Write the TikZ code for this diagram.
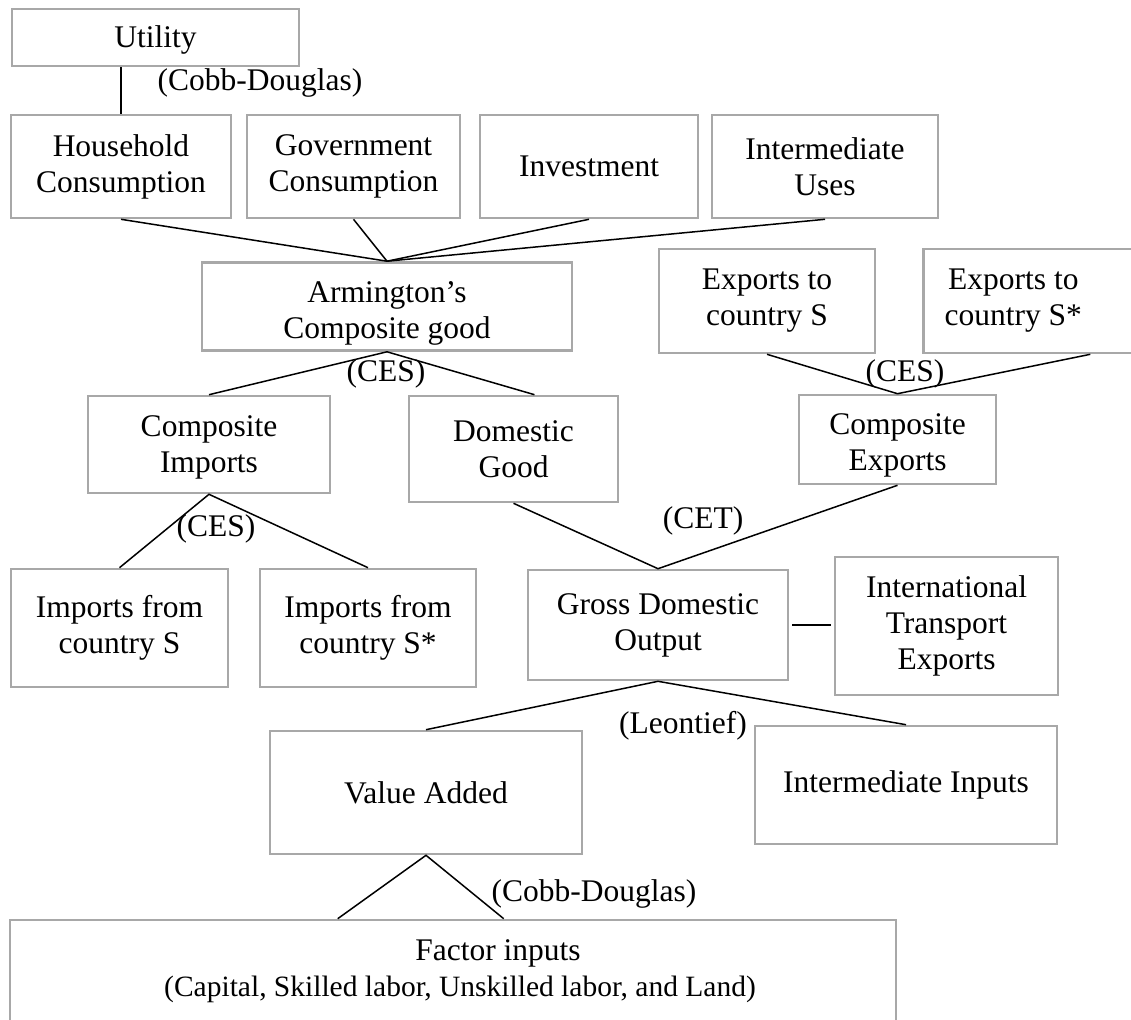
\documentclass[tikz,border=0pt]{standalone}
\usepackage{fontspec}
\setmainfont{Liberation Serif}
\usetikzlibrary{calc}
\definecolor{BoxGray}{RGB}{168,168,168}

\begin{document}
\begin{tikzpicture}[x=1pt,y=-1pt,
  box/.style={draw=BoxGray,line width=2.6pt,fill=white,align=center,inner sep=0pt,
    font=\fontsize{31.5}{36}\selectfont},
  link/.style={line width=1.5pt},
  lbl/.style={font=\fontsize{31.5}{36}\selectfont,inner sep=0pt}]
  \useasboundingbox (0,0) rectangle (1131,1019);
  \clip (0,0) rectangle (1131,1019);

  % top level
  \node[box,minimum width=287pt,minimum height=57pt] (util) at (155.5,37.5) {\raisebox{-2pt}[\height][\depth]{Utility}};
  \node[box,minimum width=220pt,minimum height=103pt] (hh) at (121,166.5) {Household\\Consumption};
  \node[box,minimum width=213pt,minimum height=103pt] (gov) at (353.5,166.5) {Government\\Consumption};
  \node[box,minimum width=218pt,minimum height=103pt] (inv) at (589,166.5) {Investment};
  \node[box,minimum width=226pt,minimum height=103pt] (ium) at (825,166.5) {Intermediate\\Uses};

  % Armington and exports
  \node[box,minimum width=370pt,minimum height=88pt] (arm) at (387,306.5)
    {\raisebox{-7pt}[\height][\depth]{\begin{tabular}{@{}c@{}}Armington's\\Composite good\end{tabular}}};
  \node[box,minimum width=216pt,minimum height=104pt] (exs) at (767,301) {Exports to\\country S};
  \node[box,minimum width=218pt,minimum height=104pt,anchor=west] (exs2) at (922,301)
    {\hspace*{-38pt}Exports to\\\hspace*{-38pt}country S*};

  \node[box,minimum width=242pt,minimum height=97pt] (cim) at (209,444.5)
    {\raisebox{-3pt}[\height][\depth]{\begin{tabular}{@{}c@{}}Composite\\Imports\end{tabular}}};
  \node[box,minimum width=209pt,minimum height=106pt] (dom) at (513.5,449) {Domestic\\Good};
  \node[box,minimum width=197pt,minimum height=89pt] (cex) at (897.5,439.5)
    {\raisebox{-6pt}[\height][\depth]{\begin{tabular}{@{}c@{}}Composite\\Exports\end{tabular}}};

  % imports and output
  \node[box,minimum width=217pt,minimum height=118pt] (ims) at (119.5,628) {Imports from\\country S};
  \node[box,minimum width=216pt,minimum height=118pt] (ims2) at (368,628) {Imports from\\country S*};
  \node[box,minimum width=260pt,minimum height=110pt] (gdo) at (658,625) {Gross Domestic\\Output};
  \node[box,minimum width=223pt,minimum height=138pt] (ite) at (946.5,626) {International\\Transport\\Exports};

  % production
  \node[box,minimum width=312pt,minimum height=123pt] (va) at (426,792.5) {Value Added};
  \node[box,minimum width=302pt,minimum height=118pt] (iin) at (906,785) {Intermediate Inputs};
  \node[box,minimum width=886pt,minimum height=103pt] (fac) at (453,971.5)
    {\hspace*{90pt}Factor inputs\\\hspace*{14pt}{\fontsize{29.5}{36}\selectfont(Capital, Skilled labor, Unskilled labor, and Land)}};

  % connectors
  \draw[link] (util.south -| hh.north) -- (hh.north);
  \foreach \n in {hh,gov,inv,ium}
    \draw[link] (\n.south) -- (arm.north);
  \draw[link] (cim.north) -- (arm.south) -- ($(dom.north)+(21,0)$);
  \draw[link] (exs.south) -- (cex.north) -- ($(exs2.south)+(58,0)$);
  \draw[link] (ims.north) -- (cim.south) -- (ims2.north);
  \draw[link] (dom.south) -- (gdo.north) -- (cex.south);
  \draw[link,shorten <=3pt,shorten >=3pt] (gdo.east) -- (gdo.east -| ite.west);
  \draw[link] (va.north) -- (gdo.south) -- (iin.north);
  \draw[link] ($(fac.north west)+(329,0)$) -- (va.south) -- ($(fac.north west)+(495,0)$);

  % function labels
  \node[lbl] (cdtop) at (260,83) {(Cobb-Douglas)};
  \node[lbl] (cesarm) at (386,374) {(CES)};
  \node[lbl] (cesexp) at (905,374) {(CES)};
  \node[lbl] (cesimp) at (216,529) {(CES)};
  \node[lbl] (cet) at (703,521) {(CET)};
  \node[lbl] (leon) at (683,726) {(Leontief)};
  \node[lbl] (cdbot) at (594,894) {(Cobb-Douglas)};
\end{tikzpicture}
\end{document}
